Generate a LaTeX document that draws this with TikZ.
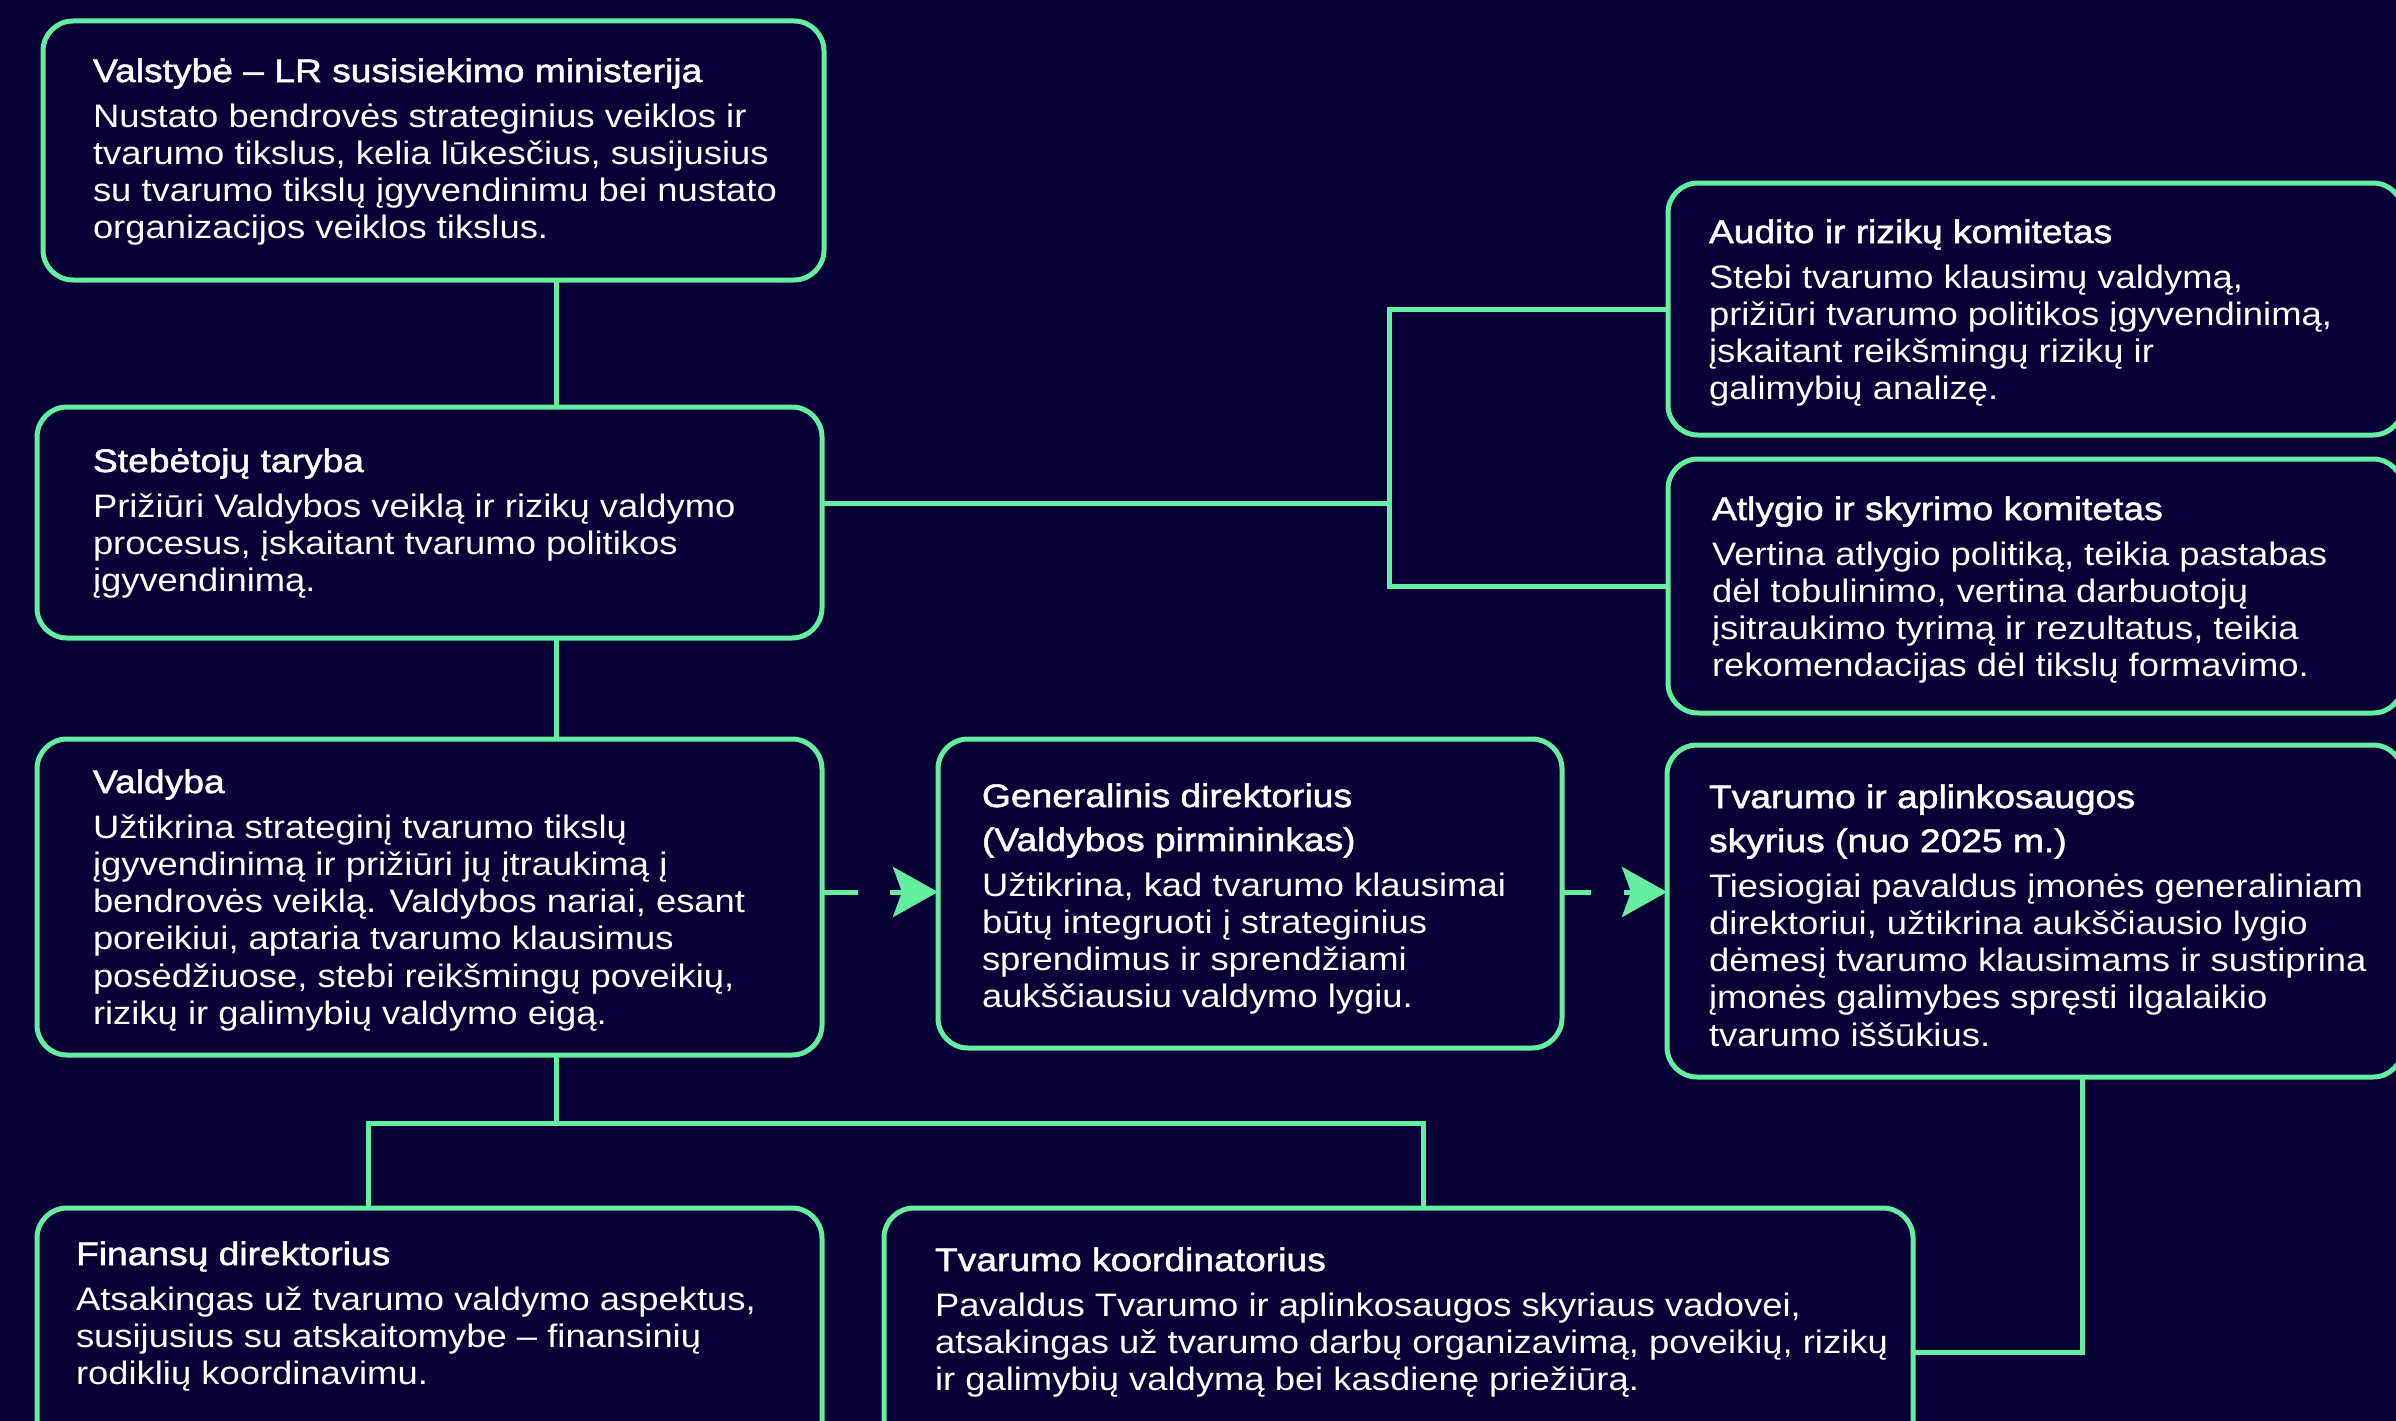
\documentclass[tikz,border=0pt]{standalone}
\usepackage{fontspec}
\setmainfont{Liberation Sans}[FakeStretch=1.12]
\newfontfamily\ttlfont{Liberation Sans}[FakeStretch=1.145, FakeBold=1.6]
\usetikzlibrary{arrows.meta,calc}
\definecolor{bg}{RGB}{6,0,54}
\definecolor{grn}{RGB}{100,238,160}
\newcommand\myT[1]{\hbox{\ttlfont #1}}
\newcommand\myB[1]{\hbox{#1}}
\newcommand\bxt[3]{\vtop{\lineskiplimit=-1000pt\lineskip=0pt
  \baselineskip=44pt #1%
  \baselineskip=45pt \myB{#2}%
  \baselineskip=37.3pt #3}}
\begin{document}
\begin{tikzpicture}[x=1pt,y=-1pt,
  box/.style={draw=grn, line width=5pt, rounded corners=30pt, fill=bg, outer sep=0pt, inner sep=0pt, anchor=north west, rectangle},
  conn/.style={draw=grn, line width=5pt},
  arr/.style={conn, -{Stealth[length=45pt,width=50pt,inset=9pt]}},
  txt/.style={anchor=base west, inner sep=0pt, outer sep=0pt, text=white, font=\fontsize{32.5pt}{37.3pt}\selectfont}]
\clip (0,0) rectangle (2396,1421);
\fill[bg] (0,0) rectangle (2396,1421);

% boxes
\node[box, minimum width=781pt, minimum height=259pt] (A) at (43,21) {};
\node[box, minimum width=785pt, minimum height=231pt] (B) at (37,407) {};
\node[box, minimum width=785pt, minimum height=316pt] (C) at (37,739) {};
\node[box, minimum width=624pt, minimum height=309pt] (D) at (938,739) {};
\node[box, minimum width=735pt, minimum height=252pt] (E) at (1668,183) {};
\node[box, minimum width=735pt, minimum height=254pt] (F) at (1668,459) {};
\node[box, minimum width=736pt, minimum height=332pt] (G) at (1667,745) {};
\node[box, minimum width=785pt, minimum height=260pt] (H) at (37,1208) {};
\node[box, minimum width=1029pt, minimum height=260pt] (I) at (884,1208) {};

% helper coordinates
\coordinate (trunk) at (556,0);
\coordinate (jBR) at (1389,503);
\coordinate (jC) at (556,1123);
\coordinate (hx) at (368,0);
\coordinate (ix) at (1423,0);
\coordinate (gx) at (2082,0);
\coordinate (iy) at (0,1352);
\coordinate (arrY) at (0,892);

% connectors
\draw[conn] (A.south -| trunk) -- (B.north -| trunk);
\draw[conn] (B.south -| trunk) -- (C.north -| trunk);
\draw[conn] (B.east |- jBR) -- (jBR);
\draw[conn] (E.west) -| (F.west -| jBR) -- (F.west);
\draw[conn] (C.south -| trunk) -- (jC);
\draw[conn] (H.north -| hx) |- (jC) -| (I.north -| ix);
\draw[conn] (G.south -| gx) |- (I.east |- iy);
\draw[conn] (C.east |- arrY) -- ++(36,0);
\draw[arr] ($(C.east |- arrY)+(68,0)$) -- (D.west |- arrY);
\draw[conn] (D.east |- arrY) -- ++(29,0);
\draw[arr] ($(D.east |- arrY)+(62,0)$) -- (G.west |- arrY);

% texts
\node[txt] (tA) at (93,82) {\bxt{\myT{Valstybė – LR susisiekimo ministerija}}{Nustato bendrovės strateginius veiklos ir}{%
\myB{tvarumo tikslus, kelia lūkesčius, susijusius}\myB{su tvarumo tikslų įgyvendinimu bei nustato}\myB{organizacijos veiklos tikslus.}}};

\node[txt] (tB) at (93,472) {\bxt{\myT{Stebėtojų taryba}}{Prižiūri Valdybos veiklą ir rizikų valdymo}{%
\myB{procesus, įskaitant tvarumo politikos}\myB{įgyvendinimą.}}};

\node[txt] (tC) at (93,793) {\bxt{\myT{Valdyba}}{Užtikrina strateginį tvarumo tikslų}{%
\myB{įgyvendinimą ir prižiūri jų įtraukimą į}\myB{bendrovės veiklą. Valdybos nariai, esant}\myB{poreikiui, aptaria tvarumo klausimus}\myB{posėdžiuose, stebi reikšmingų poveikių,}\myB{rizikų ir galimybių valdymo eigą.}}};

\node[txt] (tD) at (982,807) {\bxt{\myT{Generalinis direktorius}\myT{(Valdybos pirmininkas)}}{Užtikrina, kad tvarumo klausimai}{%
\myB{būtų integruoti į strateginius}\myB{sprendimus ir sprendžiami}\myB{aukščiausiu valdymo lygiu.}}};

\node[txt] (tE) at (1709,243) {\bxt{\myT{Audito ir rizikų komitetas}}{Stebi tvarumo klausimų valdymą,}{%
\myB{prižiūri tvarumo politikos įgyvendinimą,}\myB{įskaitant reikšmingų rizikų ir}\myB{galimybių analizę.}}};

\node[txt] (tF) at (1712,520) {\bxt{\myT{Atlygio ir skyrimo komitetas}}{Vertina atlygio politiką, teikia pastabas}{%
\myB{dėl tobulinimo, vertina darbuotojų}\myB{įsitraukimo tyrimą ir rezultatus, teikia}\myB{rekomendacijas dėl tikslų formavimo.}}};

\node[txt] (tG) at (1709,808) {\bxt{\myT{Tvarumo ir aplinkosaugos}\myT{skyrius (nuo 2025 m.)}}{Tiesiogiai pavaldus įmonės generaliniam}{%
\myB{direktoriui, užtikrina aukščiausio lygio}\myB{dėmesį tvarumo klausimams ir sustiprina}\myB{įmonės galimybes spręsti ilgalaikio}\myB{tvarumo iššūkius.}}};

\node[txt] (tH) at (76,1265) {\bxt{\myT{Finansų direktorius}}{Atsakingas už tvarumo valdymo aspektus,}{%
\myB{susijusius su atskaitomybe – finansinių}\myB{rodiklių koordinavimu.}}};

\node[txt] (tI) at (935,1271) {\bxt{\myT{Tvarumo koordinatorius}}{Pavaldus Tvarumo ir aplinkosaugos skyriaus vadovei,}{%
\myB{atsakingas už tvarumo darbų organizavimą, poveikių, rizikų}\myB{ir galimybių valdymą bei kasdienę priežiūrą.}}};
\end{tikzpicture}
\end{document}
